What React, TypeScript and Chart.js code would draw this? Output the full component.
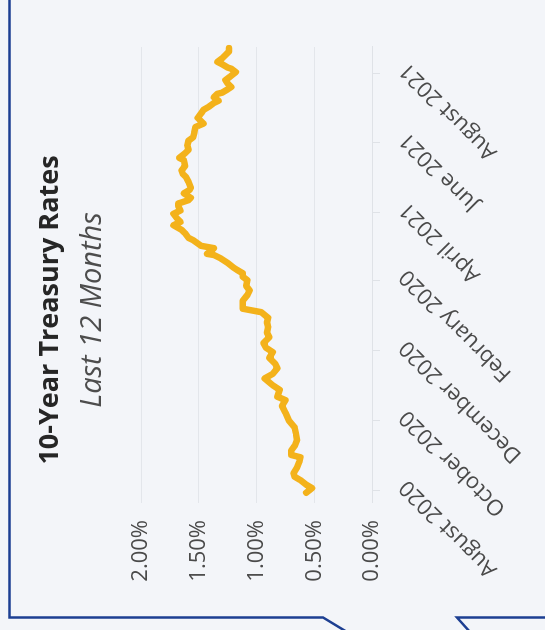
import React, { useEffect, useRef } from "react";
import { Chart, registerables } from "chart.js";

Chart.register(...registerables);

// ---- data ----
const titleText = "10-Year Treasury Rates";
const subtitleText = "Last 12 Months";
const startDate = "2020-08-01";

// trading-day samples: offset in days from startDate
const dayOffsets = [
  -2, 2, 5, 9, 12, 15, 20, 25, 29, 31,
  35, 39, 44, 50, 55, 61, 68, 74, 79, 82,
  88, 92, 98, 102, 107, 111, 116, 121, 125, 129,
  134, 138, 143, 147, 151, 156, 159, 163, 166, 171,
  175, 179, 184, 187, 190, 193, 195, 199, 203, 206,
  207, 210, 212, 214, 219, 221, 225, 228, 232, 235,
  238, 242, 245, 249, 251, 254, 256, 260, 263, 265,
  270, 274, 277, 280, 284, 289, 291, 295, 298, 302,
  306, 309, 313, 318, 321, 324, 326, 330, 333, 336,
  339, 341, 344, 347, 348, 351, 353, 356, 359, 362,
  366, 369, 370, 373, 375, 378, 381, 384, 387,
];

// 10-year yield, percent
const rates = [
  0.57, 0.52, 0.57, 0.62, 0.67, 0.68, 0.65, 0.63, 0.62, 0.70,
  0.70, 0.67, 0.65, 0.66, 0.67, 0.72, 0.75, 0.78, 0.75, 0.82,
  0.80, 0.86, 0.93, 0.86, 0.82, 0.84, 0.89, 0.86, 0.92, 0.94,
  0.89, 0.91, 0.90, 0.91, 0.90, 0.96, 1.12, 1.12, 1.12, 1.08,
  1.06, 1.09, 1.08, 1.12, 1.12, 1.17, 1.20, 1.25, 1.31, 1.37,
  1.43, 1.39, 1.37, 1.48, 1.55, 1.59, 1.62, 1.65, 1.72, 1.66,
  1.69, 1.72, 1.66, 1.68, 1.68, 1.59, 1.57, 1.63, 1.58, 1.57,
  1.59, 1.61, 1.64, 1.65, 1.62, 1.63, 1.67, 1.62, 1.59, 1.60,
  1.59, 1.55, 1.54, 1.53, 1.46, 1.49, 1.51, 1.48, 1.46, 1.41,
  1.37, 1.33, 1.37, 1.34, 1.30, 1.25, 1.22, 1.25, 1.27, 1.23,
  1.18, 1.22, 1.25, 1.30, 1.34, 1.30, 1.27, 1.24, 1.24,
];

const tickDates = [
  "2020-08-01", "2020-10-01", "2020-12-01", "2021-02-01",
  "2021-04-01", "2021-06-01", "2021-08-01",
];
const tickLabels = [
  "August 2020", "October 2020", "December 2020", "February 2020",
  "April 2021", "June 2021", "August 2021",
];

const axisStartDay = -11;
const axisEndDay = 388;
const rateMin = 0;
const rateMax = 2;
const rateStep = 0.5;

// ---- helpers ----
const DAY = 86400000;
const toOffset = (iso: string) =>
  Math.round((Date.parse(iso + "T00:00:00Z") - Date.parse(startDate + "T00:00:00Z")) / DAY);

const FONT = "'Open Sans', 'DejaVu Sans', sans-serif";
const PAGE_W = 545;
const PAGE_H = 630;

export default function App() {
  const canvasRef = useRef<HTMLCanvasElement | null>(null);

  useEffect(() => {
    const canvas = canvasRef.current;
    if (!canvas) return;
    const tickDays = tickDates.map(toOffset);
    const points = dayOffsets.map((d, i) => ({ x: d, y: rates[i] }));

    const chart = new Chart(canvas, {
      type: "line",
      data: {
        datasets: [
          {
            data: points,
            borderColor: "#F3B21B",
            borderWidth: 6.5,
            pointRadius: 0,
            tension: 0,
            borderCapStyle: "round",
            borderJoinStyle: "round",
            clip: false,
          } as any,
        ],
      },
      options: {
        responsive: false,
        animation: false,
        devicePixelRatio: 1,
        layout: { padding: { left: 10, right: 0, top: 0, bottom: 0 } },
        plugins: {
          legend: { display: false },
          tooltip: { enabled: false },
          title: {
            display: true,
            text: titleText,
            color: "#262626",
            font: { family: FONT, size: 27, weight: "bold" },
            padding: { top: 34, bottom: 0 },
          },
          subtitle: {
            display: true,
            text: subtitleText,
            color: "#4d4d4d",
            font: { family: FONT, size: 29, style: "italic", weight: "normal" },
            padding: { top: 9, bottom: 31 },
          },
        },
        scales: {
          x: {
            type: "linear",
            min: axisStartDay,
            max: axisEndDay,
            afterBuildTicks: (scale: any) => {
              scale.ticks = tickDays.map((v) => ({ value: v }));
            },
            afterFit: (scale: any) => {
              scale.height = 173;
              scale.paddingLeft = 0;
              scale.paddingRight = 0;
            },
            ticks: {
              autoSkip: false,
              minRotation: 45,
              maxRotation: 45,
              padding: 14,
              labelOffset: 7,
              color: "#4a4a4a",
              font: { family: FONT, size: 22 },
              callback: (_v: any, i: number) => tickLabels[i],
            },
            grid: {
              drawOnChartArea: false,
              drawTicks: true,
              tickLength: 8,
              color: "#dfe2e7",
            },
            border: { display: true, color: "#dfe2e7" },
          },
          y: {
            min: rateMin,
            max: rateMax,
            afterFit: (scale: any) => {
              scale.width = 117;
            },
            ticks: {
              stepSize: rateStep,
              padding: 17,
              color: "#4a4a4a",
              font: { family: FONT, size: 22 },
              callback: (v: any) => Number(v).toFixed(2) + "%",
            },
            grid: { color: "#e3e6eb", drawTicks: false, lineWidth: 1 },
            border: { display: false },
          },
          yRight: {
            type: "linear",
            position: "right",
            display: true,
            min: rateMin,
            max: rateMax,
            afterFit: (scale: any) => {
              scale.width = 47;
            },
            ticks: { display: false },
            grid: { display: false },
            border: { display: false },
          },
        },
      } as any,
    });
    return () => chart.destroy();
  }, []);

  return (
    <div
      style={{
        position: "fixed",
        left: 0,
        top: 0,
        width: PAGE_W,
        height: PAGE_H,
        overflow: "hidden",
        background: "#f3f5f9",
      }}
    >
      <div
        style={{
          position: "absolute",
          left: 0,
          top: 0,
          width: PAGE_H,
          height: PAGE_W,
          transformOrigin: "0 0",
          transform: `translateY(${PAGE_H}px) rotate(-90deg)`,
        }}
      >
        <canvas
          ref={canvasRef}
          width={PAGE_H}
          height={PAGE_W}
          style={{ width: PAGE_H, height: PAGE_W, display: "block" }}
        />
      </div>
      <svg
        width={PAGE_W}
        height={PAGE_H}
        style={{ position: "absolute", left: 0, top: 0, pointerEvents: "none" }}
      >
        <polyline
          points="9.5,0 9.5,617.5 323,617.5 347,632"
          fill="none"
          stroke="#1d3f92"
          strokeWidth={2.5}
        />
        <polyline
          points="470,632 457,617.5 547,617.5"
          fill="none"
          stroke="#1d3f92"
          strokeWidth={2.5}
        />
      </svg>
    </div>
  );
}
